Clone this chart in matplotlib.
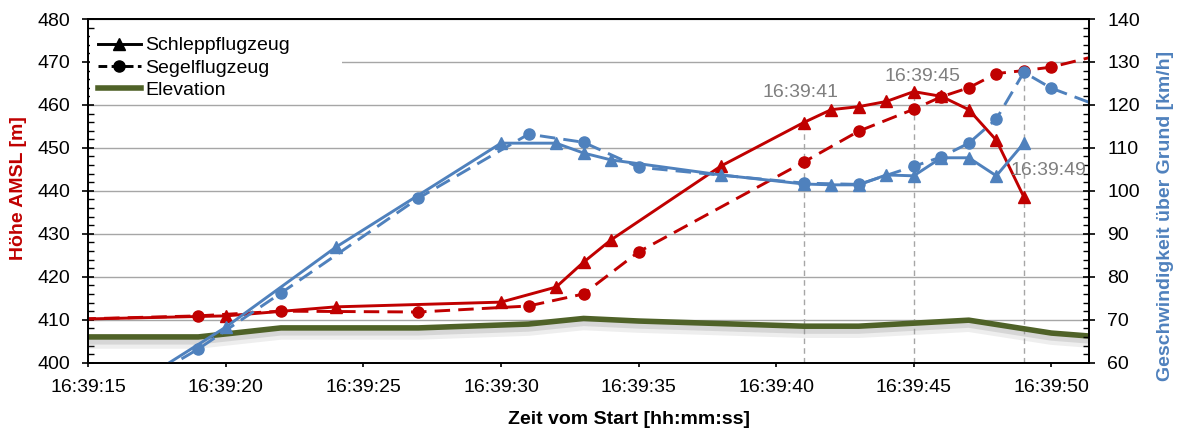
import matplotlib
matplotlib.use('Agg')
import matplotlib.pyplot as plt
import matplotlib.patheffects as pe
from matplotlib.lines import Line2D
from matplotlib.patches import Rectangle
from matplotlib.ticker import MultipleLocator, FuncFormatter

plt.rcParams['font.family'] = ['Liberation Sans', 'DejaVu Sans']
plt.rcParams['font.size'] = 14

# Schleppflugzeug
zeit_schlepp = ["16:39:13", "16:39:20", "16:39:24", "16:39:30", "16:39:32", "16:39:33",
                "16:39:34", "16:39:38", "16:39:41", "16:39:42", "16:39:43", "16:39:44",
                "16:39:45", "16:39:46", "16:39:47", "16:39:48", "16:39:49"]
hoehe_schlepp = [409.9, 410.9, 413.0, 414.1, 417.6, 423.4, 428.6, 445.8, 455.9, 458.9,
                 459.6, 460.8, 463.1, 462.0, 458.9, 451.8, 438.6]
speed_schlepp = [40.0, 68.3, 86.9, 111.1, 111.1, 108.8, 107.2, 103.7, 101.6, 101.4,
                 101.4, 103.7, 103.5, 107.7, 107.7, 103.5, 111.1]

# Segelflugzeug
zeit_segel = ["16:39:13", "16:39:19", "16:39:22", "16:39:27", "16:39:31", "16:39:33",
              "16:39:35", "16:39:41", "16:39:43", "16:39:45", "16:39:46", "16:39:47",
              "16:39:48", "16:39:49", "16:39:50", "16:39:52"]
hoehe_segel = [409.9, 410.9, 412.0, 411.8, 413.2, 416.0, 425.8, 446.7, 453.9, 459.0,
               461.9, 464.0, 467.3, 468.0, 468.8, 472.0]
speed_segel = [40.5, 63.2, 76.2, 98.3, 113.2, 111.3, 105.5, 101.8, 101.5, 105.7,
               107.9, 111.1, 116.7, 127.6, 123.9, 119.1]

# Gelaendehoehe
zeit_elev = ["16:39:13", "16:39:19", "16:39:22", "16:39:27", "16:39:31", "16:39:33",
             "16:39:35", "16:39:41", "16:39:43", "16:39:45", "16:39:47", "16:39:50",
             "16:39:52"]
elevation = [406.0, 406.0, 408.1, 408.1, 409.0, 410.3, 409.7, 408.5, 408.5, 409.2,
             409.9, 406.9, 405.9]

markiert = ["16:39:41", "16:39:45", "16:39:49"]

ROT = '#C00000'
BLAU = '#4F81BD'
GRUEN = '#4F6228'
GRAU = '#7F7F7F'


def sek(t):
    h, m, s = map(int, t.split(':'))
    return h * 3600 + m * 60 + s


def hms(x, pos=None):
    x = int(round(x))
    return "%02d:%02d:%02d" % (x // 3600, (x // 60) % 60, x % 60)


xs = [sek(t) for t in zeit_schlepp]
xg = [sek(t) for t in zeit_segel]
xe = [sek(t) for t in zeit_elev]

fig = plt.figure(figsize=(11.77, 4.3), dpi=100)
ax = fig.add_axes([0.075, 0.1565, 0.8505, 0.7993])
ax2 = ax.twinx()

x0 = sek("16:39:15")
ax.set_xlim(x0, x0 + 36.38)
ax.set_ylim(400, 480)
ax2.set_ylim(60, 140)

# Hilfslinien
for t in markiert:
    tx = sek(t)
    werte = []
    if t in zeit_schlepp:
        i = zeit_schlepp.index(t)
        werte += [hoehe_schlepp[i], speed_schlepp[i] + 340]
    if t in zeit_segel:
        i = zeit_segel.index(t)
        werte += [hoehe_segel[i], speed_segel[i] + 340]
    ax.plot([tx, tx], [400, max(werte)], color='#A6A6A6', lw=1, ls=(0, (4, 3)), zorder=1)

ax.yaxis.grid(True, color='#A6A6A6', lw=1)
ax.set_axisbelow(True)

# weisser Hintergrund der Legende (verdeckt die Gitterlinie)
ax.add_patch(Rectangle((0.002, 0.764), 0.251, 0.204, transform=ax.transAxes,
                       facecolor='white', edgecolor='none', zorder=0.8))

ax.plot(xe, elevation, color=GRUEN, lw=4, solid_capstyle='round', zorder=2,
        path_effects=[pe.SimpleLineShadow(offset=(0, -2.5), shadow_color='#909090', alpha=0.25, linewidth=6),
                      pe.SimpleLineShadow(offset=(0, -4), shadow_color='#909090', alpha=0.15, linewidth=9),
                      pe.Normal()])
ax.plot(xs, hoehe_schlepp, color=ROT, lw=2.1, marker='^', ms=8.5, zorder=3)
ax.plot(xg, hoehe_segel, color=ROT, lw=2.1, ls=(0, (5.3, 2.8)), marker='o', ms=8, zorder=3)

ax2.plot(xs, speed_schlepp, color=BLAU, lw=2.1, marker='^', ms=8.5)
ax2.plot(xg, speed_segel, color=BLAU, lw=2.1, ls=(0, (5.3, 2.8)), marker='o', ms=8)

# Beschriftung der markierten Zeitpunkte
ax.text(sek(markiert[0]) - 0.13, 463.0, markiert[0], color=GRAU, ha='center', va='center', fontsize=14)
ax.text(sek(markiert[1]) + 0.31, 466.7, markiert[1], color=GRAU, ha='center', va='center', fontsize=14)
ax2.text(sek(markiert[2]) + 0.91, 104.7, markiert[2], color=GRAU, ha='center', va='center', fontsize=14)

ax.xaxis.set_major_locator(MultipleLocator(5))
ax.xaxis.set_major_formatter(FuncFormatter(hms))
ax.yaxis.set_major_locator(MultipleLocator(10))
ax.yaxis.set_minor_locator(MultipleLocator(2))
ax2.yaxis.set_major_locator(MultipleLocator(10))
ax2.yaxis.set_minor_locator(MultipleLocator(2))

ax.tick_params(axis='x', direction='out', length=3, width=1.2, pad=8.7)
ax.tick_params(axis='y', which='major', direction='inout', length=8, width=1.2, pad=9)
ax.tick_params(axis='y', which='minor', direction='in', length=4, width=1)
ax2.tick_params(axis='y', which='major', direction='inout', length=8, width=1.2, pad=9)
ax2.tick_params(axis='y', which='minor', direction='in', length=4, width=1)

for a in (ax, ax2):
    for s in a.spines.values():
        s.set_linewidth(1.3)

fig.text(18.5 / 1177, 1 - 188 / 430, 'Höhe AMSL [m]', rotation=90, ha='center', va='center',
         color=ROT, fontweight='bold', fontsize=14)
fig.text(1165 / 1177, 1 - 216 / 430, 'Geschwindigkeit über Grund [km/h]', rotation=90,
         ha='center', va='center', color=BLAU, fontweight='bold', fontsize=14)
fig.text(629 / 1177, 1 - 419.5 / 430, 'Zeit vom Start [hh:mm:ss]', ha='center', va='center',
         fontweight='bold', fontsize=14)

handles = [Line2D([], [], color='black', lw=2.1, marker='^', ms=8.5),
           Line2D([], [], color='black', lw=2.1, ls=(0, (3, 1.5)), marker='o', ms=8),
           Line2D([], [], color=GRUEN, lw=4)]
ax2.legend(handles, ['Schleppflugzeug', 'Segelflugzeug', 'Elevation'], loc='upper left',
           bbox_to_anchor=(0.0097, 0.948), frameon=False, borderpad=0, borderaxespad=0,
           handlelength=2.2, handletextpad=0.25, labelspacing=0.23, fontsize=14)

fig.savefig('out.png', dpi=100)
